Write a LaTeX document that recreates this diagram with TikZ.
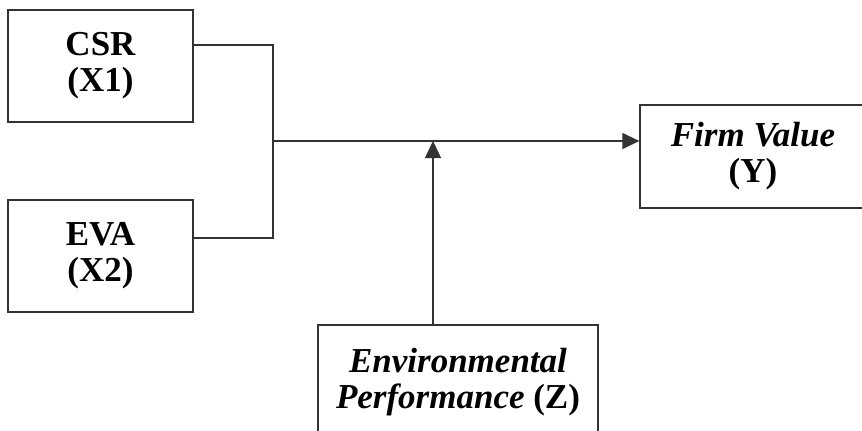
\documentclass[tikz,border=0pt]{standalone}
\usepackage{fontspec}
\setmainfont{Liberation Serif}
\usepackage{tikz}
\usetikzlibrary{arrows.meta, positioning, calc}
\definecolor{lineGray}{RGB}{51, 51, 51}

\begin{document}
\begin{tikzpicture}[x=1pt, y=-1pt,
    varbox/.style={draw=lineGray, line width=1.3pt, align=center, inner sep=0pt,
        font=\fontsize{35}{36}\selectfont\bfseries},
    link/.style={draw=lineGray, line width=1.3pt},
    effect/.style={link, -{Triangle[length=17pt, width=16pt]}}]
    \useasboundingbox (0,0) rectangle (862,431);
    \clip (0,0) rectangle (862,431);

    % --- Independent variables ---
    \node[varbox, minimum width=185pt, minimum height=112pt] (csr) at (100.5,66) {CSR\\(X1)};
    \node[varbox, minimum width=185pt, minimum height=112pt] (eva) at (100.5,256) {EVA\\(X2)};

    % --- Dependent and moderating variables ---
    \node[varbox, minimum width=226pt, minimum height=103pt] (firm) at (753,156.5) {\textit{Firm Value}\\(Y)};
    \node[varbox, minimum width=280pt, minimum height=115pt] (env) at (458,382.5) {\textit{Environmental}\\\textit{Performance} (Z)};

    % --- Connectors ---
    \coordinate (junc) at (273,141);
    \coordinate (mod) at (433,141);
    \draw[link] ([yshift=21pt]csr.east) -| (junc);
    \draw[link] ([yshift=18pt]eva.east) -| (junc);
    \draw[effect] (junc) -- (junc -| firm.west);
    \draw[effect] (env.north -| mod) -- (mod);
\end{tikzpicture}
\end{document}
